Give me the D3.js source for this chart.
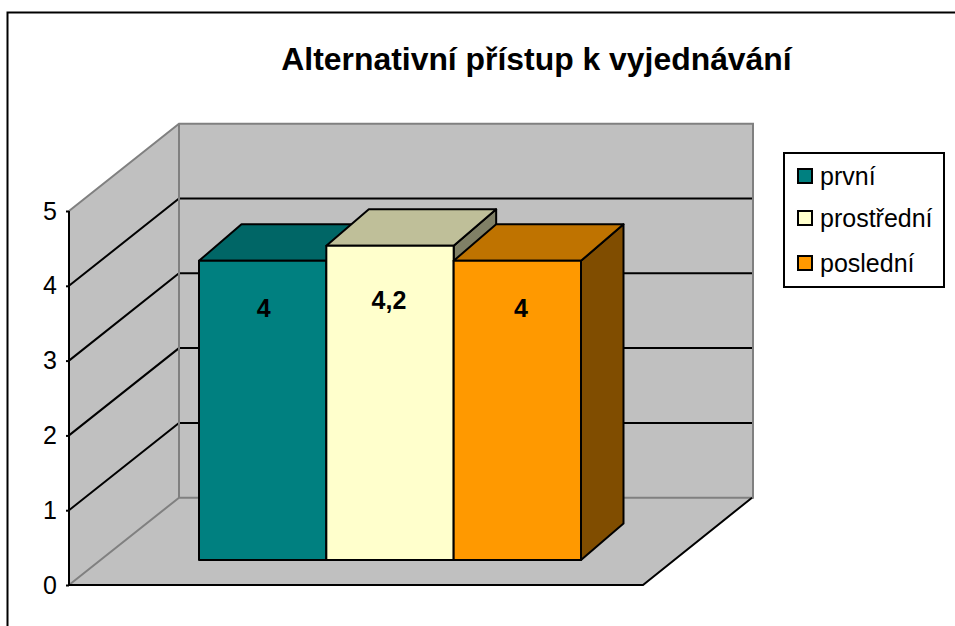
<!DOCTYPE html>
<html><head><meta charset="utf-8">
<script src="https://cdnjs.cloudflare.com/ajax/libs/d3/7.8.5/d3.min.js"></script>
<style>html,body{margin:0;padding:0;background:#fff}svg{display:block}text{font-family:"Liberation Sans",Arial,sans-serif;fill:#000}</style>
</head><body><div id="c"></div>
<script>
const title = "Alternativní přístup k vyjednávání";
const seriesNames = ["první", "prostřední", "poslední"];
const seriesValues = [4, 4.2, 4];
const valueLabels = ["4", "4,2", "4"];
const tickValues = [0, 1, 2, 3, 4, 5];
const frontColors = ["#008080", "#FFFFCC", "#FF9900"];
const topColors = ["#006666", "#BFBF99", "#BF7300"];
const sideColors = ["#005050", "#808066", "#804D00"];

const W = 955, H = 626;
const svg = d3.select("#c").append("svg").attr("width", W).attr("height", H);

const y = d3.scaleLinear().domain([0, 5]).range([585, 211]);
const x0 = 69, floorW = 574, depthX = 110, depthY = -87.3;
const barX = d3.scaleBand().domain(seriesNames).range([199, 581]);
const barBase = 560, unit = y(0) - y(1);
const bdx = 42.5, bdy = -36.5;
const poly = pts => pts.map(p => p.join(",")).join(" ");

// frame
svg.append("path").attr("d", `M7.5,${H}V12.5H${W}`).attr("fill", "none").attr("stroke", "#000").attr("stroke-width", 2);

// title
svg.append("text").attr("x", 536.5).attr("y", 69.5).attr("text-anchor", "middle")
  .attr("font-size", 31.9).attr("font-weight", "bold").text(title);

const wallFill = "#C0C0C0", wallEdge = "#808080";
// walls and floor
svg.append("polygon").attr("points", poly([[x0, y(0)], [x0, y(5)], [x0 + depthX, y(5) + depthY], [x0 + depthX, y(0) + depthY]])).attr("fill", wallFill);
svg.append("polygon").attr("points", poly([[x0 + depthX, y(5) + depthY], [x0 + depthX + floorW, y(5) + depthY], [x0 + depthX + floorW, y(0) + depthY], [x0 + depthX, y(0) + depthY]])).attr("fill", wallFill);
svg.append("polygon").attr("points", poly([[x0, y(0)], [x0 + floorW, y(0)], [x0 + floorW + depthX - 1, y(0) + depthY], [x0 + depthX, y(0) + depthY]])).attr("fill", wallFill);

// gridlines
tickValues.slice(1, -1).forEach(t => {
  svg.append("polyline").attr("points", poly([[x0, y(t)], [x0 + depthX, y(t) + depthY], [x0 + depthX + floorW, y(t) + depthY]]))
    .attr("fill", "none").attr("stroke", "#000").attr("stroke-width", 2);
});
// grey edges
svg.append("path").attr("fill", "none").attr("stroke", wallEdge).attr("stroke-width", 2)
  .attr("d", `M${x0},${y(5)}L${x0 + depthX},${y(5) + depthY}H${x0 + depthX + floorW}V${y(0) + depthY}H${x0 + depthX}V${y(5) + depthY} M${x0},${y(0)}L${x0 + depthX},${y(0) + depthY}`);
// floor front and right edges
svg.append("path").attr("fill", "none").attr("stroke", "#000").attr("stroke-width", 2)
  .attr("d", `M${x0},${y(0)}H${x0 + floorW}L${x0 + floorW + depthX - 1},${y(0) + depthY}`);

// axis
const axis = d3.axisLeft(y).tickValues(tickValues).tickSize(3).tickPadding(9).tickFormat(d3.format("d"));
const ag = svg.append("g").attr("transform", `translate(${x0},0)`).call(axis);
ag.selectAll("path,line").attr("stroke", "#000").attr("stroke-width", 2);
ag.select(".domain").attr("d", `M0,${y(5)}V${y(0)}`);
ag.selectAll("text").attr("font-size", 25).attr("font-family", '"Liberation Sans",Arial,sans-serif').attr("fill", "#000");

// bars
seriesNames.forEach((name, i) => {
  const l = barX(name), r = l + barX.bandwidth(), v = seriesValues[i];
  const t = barBase - v * unit;
  const g = svg.append("g").attr("stroke", "#000").attr("stroke-width", 2).attr("stroke-linejoin", "round");
  g.append("polygon").attr("points", poly([[r, t], [r + bdx, t + bdy], [r + bdx, barBase + bdy], [r, barBase]])).attr("fill", sideColors[i]);
  g.append("polygon").attr("points", poly([[l, t], [l + bdx, t + bdy], [r + bdx, t + bdy], [r, t]])).attr("fill", topColors[i]);
  g.append("rect").attr("x", l).attr("y", t).attr("width", r - l).attr("height", barBase - t).attr("fill", frontColors[i]);
});
// value labels
const labelNudgeX = [1, -1, 3.5], labelDrop = [56, 63, 56];
seriesNames.forEach((name, i) => {
  const t = barBase - seriesValues[i] * unit;
  svg.append("text").attr("x", barX(name) + barX.bandwidth() / 2 + labelNudgeX[i]).attr("y", t + labelDrop[i])
    .attr("text-anchor", "middle").attr("font-size", 25).attr("font-weight", "bold").text(valueLabels[i]);
});

// legend
svg.append("rect").attr("x", 784).attr("y", 153).attr("width", 160).attr("height", 134).attr("fill", "#fff").attr("stroke", "#000").attr("stroke-width", 2);
const legendRowY = [176, 218, 263];
seriesNames.forEach((name, i) => {
  const cy = legendRowY[i];
  svg.append("rect").attr("x", 798).attr("y", cy - 7).attr("width", 14).attr("height", 14).attr("fill", frontColors[i]).attr("stroke", "#000").attr("stroke-width", 2);
  svg.append("text").attr("x", 820).attr("y", cy + 8.5).attr("font-size", 25).text(name);
});
</script></body></html>
